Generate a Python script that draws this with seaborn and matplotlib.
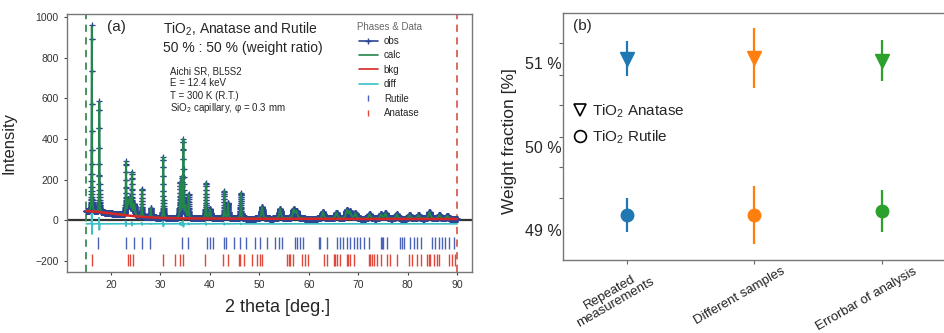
import numpy as np
import pandas as pd
import seaborn as sns
import matplotlib.pyplot as plt
from matplotlib.lines import Line2D

# ---- panel (a): powder pattern ----
peak_pos = [16.12, 17.62, 23.02, 23.45, 23.82, 24.22, 24.70, 26.25, 28.05, 30.55,
            33.95, 34.30, 34.62, 35.05, 35.68, 39.20, 40.00, 42.90, 43.65, 46.25,
            50.55, 54.20, 56.95, 57.50, 62.85, 65.60, 67.70, 68.30, 69.40, 72.30,
            74.60, 75.50, 77.80, 80.40, 82.20, 84.40, 86.40, 88.00]
peak_height = [915, 545, 255, 65, 75, 200, 55, 135, 45, 300,
               170, 190, 380, 60, 115, 175, 45, 135, 75, 125,
               58, 48, 42, 32, 34, 30, 40, 32, 26, 22,
               22, 26, 22, 18, 18, 32, 18, 14]
peak_fwhm = [0.07, 0.07, 0.08, 0.30, 0.30, 0.09, 0.30, 0.09, 0.12, 0.09,
             0.12, 0.10, 0.10, 0.25, 0.12, 0.12, 0.30, 0.12, 0.20, 0.15,
             0.35, 0.35, 0.45, 0.45, 0.40, 0.45, 0.45, 0.45, 0.45, 0.45,
             0.45, 0.45, 0.45, 0.45, 0.45, 0.45, 0.45, 0.45]
calc_shift = 0.003

bkg_x = [15, 17, 20, 23, 26, 30, 35, 40, 50, 60, 70, 80, 90]
bkg_y = [45, 42, 33, 24, 17, 11, 9, 8, 7, 7, 6, 6, 6]

diff_offset = -18

rutile_ticks = [17.4, 23.0, 24.7, 26.2, 27.9, 34.3, 35.6, 39.4, 40.0, 40.7, 42.9, 43.3,
                44.8, 46.1, 47.3, 49.1, 50.2, 51.5, 53.1, 53.9, 54.6, 57.2, 57.6, 58.3,
                58.9, 62.0, 62.3, 63.7, 65.8, 66.4, 67.0, 67.7, 68.4, 69.1, 69.8, 70.4,
                71.1, 72.1, 74.5, 74.8, 75.1, 75.8, 78.5, 78.9, 79.2, 80.5, 81.2, 81.9,
                82.6, 85.0, 85.6, 86.3, 86.9, 87.6, 88.3, 89.3]
anatase_ticks = [16.1, 23.4, 23.8, 24.4, 30.5, 33.0, 34.0, 34.6, 39.0, 42.7, 43.7, 45.8,
                 46.1, 46.8, 48.5, 49.5, 50.2, 50.5, 55.6, 55.9, 56.2, 56.9, 58.6, 59.3,
                 59.9, 63.0, 63.7, 65.0, 65.3, 65.7, 66.4, 67.7, 68.0, 68.4, 69.1, 72.1,
                 72.4, 72.8, 73.1, 73.8, 74.5, 75.8, 76.5, 77.8, 80.2, 80.9, 81.9, 82.6,
                 83.9, 84.3, 84.6, 85.3, 85.9, 86.3, 88.3, 89.0, 89.6]

# ---- panel (b): weight fractions ----
methods = ['Repeated\nmeasurements', 'Different samples', 'Errorbar of analysis']
anatase_wt = [51.05, 51.06, 51.03]
anatase_err = [0.21, 0.36, 0.25]
rutile_wt = [49.18, 49.18, 49.23]
rutile_err = [0.20, 0.35, 0.25]

sns.set_theme(style='ticks')
plt.rcParams['font.family'] = ['Liberation Sans', 'DejaVu Sans']
plt.rcParams['mathtext.fontset'] = 'custom'
plt.rcParams['mathtext.rm'] = 'Liberation Sans'

tt = np.arange(15.0, 90.0, 0.01)


def profile(x, shift):
    y = np.interp(x, bkg_x, bkg_y)
    for p, h, w in zip(peak_pos, peak_height, peak_fwhm):
        g = w / 2
        y = y + h * g**2 / ((x - p - shift)**2 + g**2)
    return y


obs = profile(tt, 0.0)
calc = profile(tt, calc_shift)
pat = pd.DataFrame({'tt': tt, 'obs': obs, 'calc': calc,
                    'diff': obs - calc + diff_offset})

c_obs, c_calc, c_bkg, c_diff = '#2b4592', '#23864a', '#d62728', '#3cc0c8'
c_rut, c_ana = '#4a62b8', '#e0483c'

fig = plt.figure(figsize=(9.45, 3.33), dpi=100)
ax1 = fig.add_axes([67 / 945, 61 / 333, 405 / 945, 258 / 333])
ax2 = fig.add_axes([563 / 945, 73 / 333, 383 / 945, 247 / 333])

# panel (a)
ax1.axhline(0, color='#333333', lw=1.6, zorder=1)
ax1.axvline(15, color='#3a8a50', lw=1.3, ls=(0, (4, 3)), zorder=1)
ax1.axvline(90, color='#d86050', lw=1.3, ls=(0, (4, 3)), zorder=1)
ax1.plot(pat['tt'], pat['obs'], color=c_obs, lw=1.2, marker='+', ms=4.5, mew=0.9, zorder=2)
sns.lineplot(data=pat, x='tt', y='calc', ax=ax1, color=c_calc, lw=1.4, estimator=None, zorder=3)
ax1.plot(bkg_x, bkg_y, color=c_bkg, lw=1.8, zorder=4)
sns.lineplot(data=pat, x='tt', y='diff', ax=ax1, color=c_diff, lw=1.2, estimator=None, zorder=4)
ax1.plot(rutile_ticks, [-110] * len(rutile_ticks), ls='none', marker='|', ms=9, mew=1.0, color=c_rut)
ax1.plot(anatase_ticks, [-195] * len(anatase_ticks), ls='none', marker='|', ms=9, mew=1.0, color=c_ana)

ax1.set_xlim(11.1, 93.0)
ax1.set_ylim(-255, 1015)
ax1.set_xticks(range(20, 91, 10))
ax1.set_yticks(range(-200, 1001, 200))
ax1.tick_params(labelsize=7.5, length=2.5, width=0.8, colors='#444444', labelcolor='#333333')
ax1.set_xlabel('2 theta [deg.]', fontsize=13)
ax1.set_ylabel('Intensity', fontsize=12)
ax1.xaxis.set_label_coords(0.52, -0.105)
ax1.yaxis.set_label_coords(-0.125, 0.5)
for s in ax1.spines.values():
    s.set_color('#777777')
    s.set_linewidth(1.0)

ax1.text(0.099, 0.975, '(a)', transform=ax1.transAxes, fontsize=11, va='top')
ax1.text(0.237, 0.924, 'TiO$_2$, Anatase and Rutile', transform=ax1.transAxes,
         fontsize=10, va='baseline')
ax1.text(0.237, 0.853, '50 % : 50 % (weight ratio)', transform=ax1.transAxes,
         fontsize=10, va='baseline')
info = ['Aichi SR, BL5S2', 'E = 12.4 keV', 'T = 300 K (R.T.)',
        'SiO$_2$ capillary, φ = 0.3 mm']
for i, line in enumerate(info):
    ax1.text(0.255, 0.767 - i * 0.048, line, transform=ax1.transAxes,
             fontsize=7, va='baseline')

handles = [Line2D([], [], color=c_obs, marker='+', ms=4, lw=1.2),
           Line2D([], [], color=c_calc, lw=1.2),
           Line2D([], [], color=c_bkg, lw=1.2),
           Line2D([], [], color=c_diff, lw=1.2),
           Line2D([], [], color=c_rut, ls='none', marker='|', ms=5),
           Line2D([], [], color=c_ana, ls='none', marker='|', ms=5)]
leg = ax1.legend(handles, ['obs', 'calc', 'bkg', 'diff', 'Rutile', 'Anatase'],
                 title='Phases & Data', loc='upper left', bbox_to_anchor=(0.715, 0.97),
                 frameon=False, fontsize=7, title_fontsize=7, labelspacing=0.45,
                 handlelength=2.0, handletextpad=0.6, borderpad=0, borderaxespad=0)
leg.get_title().set_color('#666666')

# panel (b)
pal = sns.color_palette('tab10', 3)
xs = np.arange(len(methods))
for i in xs:
    ax2.errorbar(i, anatase_wt[i], yerr=anatase_err[i], fmt='v', ms=10, color=pal[i],
                 elinewidth=1.6, capsize=0)
    ax2.errorbar(i, rutile_wt[i], yerr=rutile_err[i], fmt='o', ms=9, color=pal[i],
                 elinewidth=1.6, capsize=0)

ax2.set_xlim(-0.5, 2.5)
ax2.set_ylim(48.64, 51.60)
ax2.set_xticks(xs)
ax2.set_xticklabels([])
# rotated category labels, anchored at their upper right end
label_dx = [13, 19, 22]
for i, name in enumerate(methods):
    ax2.annotate(name, xy=(i, 0), xycoords=('data', 'axes fraction'),
                 xytext=(label_dx[i], -4), textcoords='offset points',
                 rotation=30, rotation_mode='anchor', ha='right', va='top',
                 fontsize=9.5, linespacing=1.0, multialignment='center', color='#222222')
ax2.set_yticks([49, 50, 51])
ax2.set_yticklabels(['49 %', '50 %', '51 %'], fontsize=11.5)
ax2.set_yticks([49.0, 49.38, 49.76, 50.12, 50.5, 50.86, 51.24], minor=True)
ax2.tick_params(axis='y', which='major', length=0, pad=1)
ax2.tick_params(axis='y', which='minor', length=3, width=0.8, colors='#666666')
ax2.tick_params(axis='x', length=3, width=0.8, colors='#666666')
ax2.set_ylabel('Weight fraction [%]', fontsize=12.5)
ax2.yaxis.set_label_coords(-0.12, 0.482)
for s in ax2.spines.values():
    s.set_color('#777777')
    s.set_linewidth(1.0)

ax2.text(0.025, 0.975, '(b)', transform=ax2.transAxes, fontsize=11, va='top')
mk = [Line2D([], [], ls='none', marker='v', ms=9, mfc='none', mec='black', mew=1.2),
      Line2D([], [], ls='none', marker='o', ms=8.5, mfc='none', mec='black', mew=1.2)]
ax2.legend(mk, ['TiO$_2$ Anatase', 'TiO$_2$ Rutile'], loc='upper left',
           bbox_to_anchor=(0.029, 0.64), frameon=False, fontsize=11,
           handlelength=0.8, handletextpad=0.4, labelspacing=0.6,
           borderpad=0, borderaxespad=0)

fig.savefig('out.png', dpi=100)
